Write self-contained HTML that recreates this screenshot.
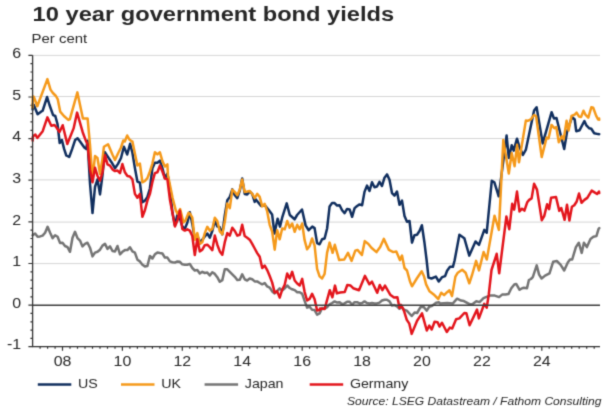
<!DOCTYPE html>
<html><head><meta charset="utf-8"><style>
html,body{margin:0;padding:0;background:#fff;}
body{width:615px;height:410px;overflow:hidden;font-family:"Liberation Sans",sans-serif;}
svg{display:block;}
</style></head><body>
<svg width="615" height="410" viewBox="0 0 615 410">
<filter id="fb" x="0" y="0" width="100%" height="100%" color-interpolation-filters="sRGB"><feConvolveMatrix order="3" kernelMatrix="0.0225 0.1050 0.0225 0.1050 0.4900 0.1050 0.0225 0.1050 0.0225" divisor="1" edgeMode="duplicate"/></filter>
<g filter="url(#fb)">
<rect width="615" height="410" fill="#fff"/>
<line x1="32.6" x2="600" y1="263.6" y2="263.6" stroke="#d6d6d6" stroke-width="1"/>
<line x1="32.6" x2="600" y1="222.1" y2="222.1" stroke="#d6d6d6" stroke-width="1"/>
<line x1="32.6" x2="600" y1="179.9" y2="179.9" stroke="#d6d6d6" stroke-width="1"/>
<line x1="32.6" x2="600" y1="138.5" y2="138.5" stroke="#d6d6d6" stroke-width="1"/>
<line x1="32.6" x2="600" y1="96.5" y2="96.5" stroke="#d6d6d6" stroke-width="1"/>
<line x1="32.6" x2="600" y1="55.4" y2="55.4" stroke="#d6d6d6" stroke-width="1"/>
<path d="M28.4,346.7H32.6 M30.4,338.4H32.6 M30.4,330.1H32.6 M30.4,321.8H32.6 M30.4,313.4H32.6 M28.4,305.1H32.6 M30.4,296.8H32.6 M30.4,288.4H32.6 M30.4,280.1H32.6 M30.4,271.8H32.6 M28.4,263.5H32.6 M30.4,255.1H32.6 M30.4,246.8H32.6 M30.4,238.5H32.6 M30.4,230.2H32.6 M28.4,221.8H32.6 M30.4,213.5H32.6 M30.4,205.2H32.6 M30.4,196.9H32.6 M30.4,188.5H32.6 M28.4,180.2H32.6 M30.4,171.9H32.6 M30.4,163.6H32.6 M30.4,155.2H32.6 M30.4,146.9H32.6 M28.4,138.6H32.6 M30.4,130.3H32.6 M30.4,121.9H32.6 M30.4,113.6H32.6 M30.4,105.3H32.6 M28.4,97.0H32.6 M30.4,88.6H32.6 M30.4,80.3H32.6 M30.4,72.0H32.6 M30.4,63.6H32.6 M28.4,55.3H32.6 M40.1,346.7V348.7 M47.6,346.7V348.7 M55.1,346.7V348.7 M62.5,346.7V350.7 M70.0,346.7V348.7 M77.5,346.7V348.7 M85.0,346.7V348.7 M92.5,346.7V348.7 M100.0,346.7V348.7 M107.5,346.7V348.7 M115.0,346.7V348.7 M122.4,346.7V350.7 M129.9,346.7V348.7 M137.4,346.7V348.7 M144.9,346.7V348.7 M152.4,346.7V348.7 M159.9,346.7V348.7 M167.4,346.7V348.7 M174.9,346.7V348.7 M182.3,346.7V350.7 M189.8,346.7V348.7 M197.3,346.7V348.7 M204.8,346.7V348.7 M212.3,346.7V348.7 M219.8,346.7V348.7 M227.3,346.7V348.7 M234.8,346.7V348.7 M242.2,346.7V350.7 M249.7,346.7V348.7 M257.2,346.7V348.7 M264.7,346.7V348.7 M272.2,346.7V348.7 M279.7,346.7V348.7 M287.2,346.7V348.7 M294.7,346.7V348.7 M302.2,346.7V350.7 M309.6,346.7V348.7 M317.1,346.7V348.7 M324.6,346.7V348.7 M332.1,346.7V348.7 M339.6,346.7V348.7 M347.1,346.7V348.7 M354.6,346.7V348.7 M362.1,346.7V350.7 M369.5,346.7V348.7 M377.0,346.7V348.7 M384.5,346.7V348.7 M392.0,346.7V348.7 M399.5,346.7V348.7 M407.0,346.7V348.7 M414.5,346.7V348.7 M421.9,346.7V350.7 M429.4,346.7V348.7 M436.9,346.7V348.7 M444.4,346.7V348.7 M451.9,346.7V348.7 M459.4,346.7V348.7 M466.9,346.7V348.7 M474.4,346.7V348.7 M481.9,346.7V350.7 M489.3,346.7V348.7 M496.8,346.7V348.7 M504.3,346.7V348.7 M511.8,346.7V348.7 M519.3,346.7V348.7 M526.8,346.7V348.7 M534.3,346.7V348.7 M541.8,346.7V350.7 M549.2,346.7V348.7 M556.7,346.7V348.7 M564.2,346.7V348.7 M571.7,346.7V348.7 M579.2,346.7V348.7 M586.7,346.7V348.7 M594.2,346.7V348.7" stroke="#333" stroke-width="1.2" fill="none"/>
<polyline points="32.6,109.4 32.8,104 33.9,105.2 37.6,114.3 41.7,111.3 42.7,110.7 47.1,97 49.5,105 53.1,115.2 55.3,116 57.5,124 59.7,143.1 61.9,140.1 64.1,148.9 66.3,155.5 69.2,157 72.2,148.9 75.1,140.1 77.6,138.2 80.4,142.1 84.3,147.4 86.3,148.9 87.5,140.7 90.0,183.5 92.5,213.1 95.0,186.9 97.5,179.4 100.0,194.4 102.5,175.2 104.7,152 108.1,157.1 111.5,162.2 115,168.2 118,163.9 121,158 123.9,146.8 127.2,154.5 130.1,143.8 132.4,152.7 134.9,168.1 137.4,181.5 139.9,182.7 142.4,202.3 144.9,200.6 147.4,196.9 149.9,188.5 152.4,168.1 154.9,162.7 157.4,162.7 159.9,160.6 162.4,168.1 164.9,178.1 167.4,173.5 169.9,188.5 172.4,212.3 174.9,225.2 177.4,214.8 179.9,218.5 182.3,226.4 184.8,228.9 187.3,222.7 189.8,212.3 192.3,223.9 194.8,238.9 197.3,235.6 199.8,242.2 202.3,239.7 204.8,236.4 207.3,233.5 209.8,237.7 212.3,231.0 214.8,221.0 217.3,226.4 219.8,227.3 222.3,234.3 224.8,215.2 227.3,200.2 229.8,196.9 232.3,189.4 234.8,195.2 237.3,198.1 239.8,190.6 242.2,178.5 244.7,193.9 247.2,194.4 249.7,191.5 252.2,193.9 254.7,201.9 255,198.5 261.1,205.9 264.8,205.2 268.4,209.5 272.1,214.4 274.5,233.5 277.6,218.7 280,226.6 282.4,216.8 286.7,203.4 289.8,215 294.6,219.3 297.1,215 302,209.5 305.6,225.4 308.7,230.2 312.3,226.6 314.6,228.1 317.1,243.1 319.6,244.3 322.1,239.3 324.6,238.5 327.1,228.5 329.6,206.4 332.1,203.1 334.6,203.1 337.1,205.6 339.6,205.2 342.1,210.2 344.6,213.1 347.1,208.9 349.6,209.4 352.1,216.8 354.6,208.1 357.1,206.0 359.6,204.4 362.1,205.2 364.5,191.9 367.0,185.6 369.5,191.0 372.0,182.3 374.5,187.3 377.0,186.5 379.5,181.9 382.0,186.0 384.5,177.7 387.0,174.4 389.5,179.8 392.0,193.1 394.5,195.6 397.0,191.5 399.5,204.8 402.0,200.6 404.5,216.0 407.0,221.8 409.5,221.0 412.0,242.7 414.5,235.2 417.0,234.7 419.5,231.0 421.9,225.2 424.4,242.2 426.6,260 428.5,277.6 431.5,278.5 435.9,276.6 438.8,281.5 442.2,277.1 445.1,276.1 447.1,270.7 450,266.8 452.9,266.8 454.6,260.5 459.4,234.8 464.3,238.2 469.3,255.6 475.5,241.5 479,244.9 484.3,229.9 486.7,232.8 491.8,180.7 494.3,182.2 498.7,196.3 506.6,135.5 508.8,157.9 511.7,145.2 513.7,150.6 517,138.7 519,145.7 522.9,155 525.9,149.6 534.1,110.6 536.6,107.2 542.7,143.4 551.6,112.2 554,118.5 556.5,118 564.2,149 567.1,131.6 572,117 574.7,119.5 576.2,131.2 579.6,130.2 584.4,121 586.4,125.4 589.3,128.3 591.3,128.8 594.2,133.2 598.1,134.1 599.2,134.2" fill="none" stroke="#102e5e" stroke-width="2.5" stroke-linejoin="round" stroke-linecap="round"/>
<polyline points="32.6,107.8 32.8,96.5 33.9,97.0 37.3,106.2 47.4,79.1 50.5,89.6 52.9,93.0 55.9,96.0 57.8,99.4 60.2,111.6 63.9,116 68.3,119.9 69.8,119.4 77.4,92.4 82.9,118.4 87.6,118.4 90.0,144.8 92.5,179.4 95.0,156.1 97.5,158.1 100.0,174.0 102.5,158.6 103.9,146.8 108.1,144.3 112.4,154.5 115,160 118,153.5 121,147.5 123.3,140.5 124.8,141.5 127.2,135.5 129.6,139.8 132.1,141.6 132.4,141.5 134.9,153.6 137.4,165.6 139.9,163.6 142.4,182.3 144.9,181.0 147.4,178.1 149.9,171.5 152.4,163.6 154.9,152.3 157.4,154.4 159.9,152.3 162.4,161.1 164.9,166.5 167.4,164.4 167.9,175 172.6,198 175.8,210.4 177.6,214 180.1,209.1 183.5,222.4 185.5,220.5 188.6,212.8 189.8,213.5 192.3,217.7 194.8,239.7 197.3,233.1 199.8,243.9 202.3,242.2 204.8,233.1 207.3,226.8 209.8,230.6 212.3,228.9 214.8,217.7 217.3,221.0 219.8,231.4 222.3,234.3 224.8,221.8 227.3,203.5 229.8,208.1 232.3,189.8 234.8,191.9 237.3,195.2 239.8,189.4 242.2,179.4 244.7,191.9 247.2,191.5 249.7,191.0 252.2,193.9 254.7,198.1 257.2,193.9 259.7,196.9 262.2,206.4 264.7,203.9 267.2,211.4 269.7,224.8 272.2,231.8 274.7,249.7 277.2,230.2 279.7,239.3 282.2,228.5 284.7,229.3 287.2,221.0 289.7,227.7 292.2,223.5 294.7,231.8 297.2,224.8 299.7,229.3 302.2,223.5 304.6,240.2 307.1,249.3 309.6,246.0 312.1,238.5 314.6,245.6 317.1,268.9 319.6,276.4 322.1,278.5 324.6,273.9 327.1,252.6 329.6,242.6 332.6,252.8 334.8,244.8 339.2,260.1 344.3,259.4 348,252.8 351.6,260.9 355.3,250.6 357.5,249.9 361.9,255 364.8,241.1 368.4,244 371.4,247.7 376.5,252.1 380.2,247 383.8,238.9 388.9,249.9 393.3,252.1 396.3,251.4 399.9,260.1 402.0,255.6 404.5,268.0 407.0,270.5 409.5,279.7 410,281.5 412,286.3 416.8,278.5 421.7,271.2 424.1,276.6 426.1,284.4 429.5,291.2 434.4,295.1 438.3,299 441.2,292.7 444.1,295.1 447.1,292.2 449.5,290.2 452,296.1 455.4,276.6 457.8,272.7 462.2,269.8 465.6,272.7 469.3,283.3 472.2,274.5 476.1,260.9 479,270.4 483.6,252 486.8,259.5 494.5,215.7 498.9,229.9 503.3,140.1 508.8,173.5 511.7,153 514.6,166.2 517.1,144.8 519,162.3 525.9,120.4 527.8,120.9 530.7,119.4 534.1,115 536.1,116 541.7,157.1 546.6,137.6 548.5,138.5 551.5,124.9 554.4,128.3 556.3,127 558.8,142.2 561.8,136.4 563.7,139.3 566.6,120.8 568.6,130.5 571.5,115.9 574.7,114.6 576.6,112.7 579.1,116.6 581,117.1 583.5,110.7 585.4,114.6 588.3,117.6 591.3,107.3 593.2,107.8 596.1,115.6 598.1,119.5 599.1,118.5 599.2,119.8" fill="none" stroke="#f5991a" stroke-width="2.5" stroke-linejoin="round" stroke-linecap="round"/>
<polyline points="32.6,235.2 35.1,233.5 37.6,236.8 40.1,236.4 42.6,235.6 45.1,232.7 47.6,226.8 50.1,232.7 52.6,238.1 55.1,235.2 57.6,236.8 60.1,243.1 62.5,242.7 65.0,246.0 67.5,247.2 70.0,251.8 72.5,237.7 75.0,231.8 77.5,238.1 80.0,240.6 82.5,246.4 85.0,243.9 87.5,242.7 90.0,247.7 92.5,256.4 95.0,252.6 97.5,251.8 100.0,249.7 102.5,245.6 105.0,243.9 107.5,248.9 110.0,246.4 112.5,251.0 115.0,251.4 117.5,246.0 120.0,254.3 122.4,251.8 124.9,250.1 127.4,250.1 129.9,247.2 132.4,251.4 134.9,252.6 137.4,259.7 139.9,261.4 142.4,264.7 144.9,266.4 147.4,266.0 149.9,256.0 152.4,258.5 154.9,254.3 157.4,252.6 159.9,253.1 162.4,253.5 164.9,257.6 167.4,257.6 169.9,261.4 172.4,262.2 174.9,262.6 177.4,261.4 179.9,261.8 182.3,264.3 184.8,264.7 187.3,264.7 189.8,263.9 192.3,268.0 194.8,270.5 197.3,270.1 199.8,273.5 202.3,271.8 204.8,273.0 207.3,272.6 209.8,275.5 212.3,272.2 214.8,273.9 217.3,277.2 219.8,281.8 222.3,280.1 224.8,269.3 227.3,269.3 229.8,271.8 232.3,274.3 234.8,276.8 237.3,280.1 239.8,279.7 242.2,274.3 244.7,279.3 247.2,280.5 249.7,278.5 252.2,279.3 254.7,281.4 257.2,281.4 259.7,283.0 262.2,284.3 264.7,283.0 267.2,286.4 269.7,287.6 272.2,291.4 274.7,293.4 277.2,290.9 279.7,288.4 282.2,290.5 284.7,288.4 287.2,285.5 289.7,288.0 292.2,289.3 294.7,290.1 297.2,292.2 299.7,292.2 302.2,293.9 304.6,300.9 307.1,307.6 309.6,306.8 312.1,309.7 314.6,310.1 317.1,314.7 319.6,313.4 322.1,308.0 324.6,308.8 327.1,307.2 329.6,304.3 332.1,303.0 334.6,301.4 337.1,302.6 339.6,302.2 342.1,304.3 344.6,303.4 347.1,301.8 349.6,301.8 352.1,304.7 354.6,302.2 357.1,302.2 359.6,303.4 362.1,303.0 364.5,301.4 367.0,303.0 369.5,303.4 372.0,303.0 374.5,303.4 377.0,303.4 379.5,302.6 382.0,300.5 384.5,299.7 387.0,299.7 389.5,301.4 392.0,305.5 394.5,305.1 397.0,306.3 399.5,308.8 402.0,307.2 403.9,309.6 406.8,310.6 411.7,316 414.6,312.6 417.1,313 420.5,307.2 423.4,306.7 426.8,310.6 429.3,306.7 432.2,305.7 436.1,302.8 439,302.3 440,303.6 447.3,303.1 452.7,303.6 457.1,298.7 461,300.6 463.9,301.1 469.5,304.2 472.7,304 476.3,301.2 479.6,302.1 483.5,298.2 485.9,297.2 489.9,295.6 494.8,295.6 499.1,297.1 502.1,294.6 505.5,294.6 508.4,294.1 511.3,288.3 514.3,284.4 516.2,283.9 519.6,289.8 522.1,288.3 524,287.8 527,288.3 528.9,280 530.9,279 532.8,277.1 536.7,265.4 539.1,274.6 541.6,278.5 545.1,275.6 549.5,273.4 553.2,261.7 556.8,261 560.5,264.7 564.2,270.5 567.8,262.5 570,259.5 572.2,259.5 575.9,247.1 578.8,242.7 581.7,252.9 583.9,242.7 586.9,247.1 590.5,239 593.4,236.8 596.4,236.1 598.6,228.8 599.3,228.1" fill="none" stroke="#747474" stroke-width="2.5" stroke-linejoin="round" stroke-linecap="round"/>
<polyline points="32.6,140.7 32.8,137 33.4,136.1 35.4,134.6 37.3,138 42.7,131.2 47.4,117.4 51.3,125.8 54.5,125 56.5,127.5 59.5,132 62.7,125.2 67.3,144 73.6,128.4 77.1,112.6 82.7,132.2 85.9,140.9 87.5,144.0 90.0,169.4 92.5,182.3 95.0,167.7 97.5,176.0 100.0,180.6 102.5,172.3 105.0,155.2 107.5,164.4 110.0,165.6 112.5,169.4 115.0,171.1 117.5,170.6 120.0,173.1 122.4,164.0 124.9,172.3 127.4,176.0 129.9,176.5 132.4,179.4 134.9,193.9 137.4,197.7 139.9,193.9 142.4,216.8 144.9,210.2 147.4,200.6 149.9,193.9 152.4,181.9 154.9,173.1 157.4,172.3 159.9,165.6 162.4,171.5 164.9,178.5 167.4,179.4 169.9,199.4 172.4,212.7 174.9,226.4 177.4,220.6 179.9,210.6 182.3,228.9 184.8,230.6 187.3,229.3 189.8,230.6 192.3,236.0 194.8,255.1 197.3,239.3 199.8,251.4 202.3,249.7 204.8,245.2 207.3,244.7 209.8,247.2 212.3,250.1 214.8,235.6 217.3,244.7 219.8,251.4 222.3,254.7 224.8,242.2 227.3,233.1 229.8,235.6 232.3,227.7 234.8,231.0 237.3,235.6 239.8,234.7 242.2,224.8 244.7,236.0 247.2,237.7 249.7,239.7 252.2,243.9 254.7,248.5 257.2,253.1 259.7,256.8 262.2,268.0 264.7,265.6 267.2,270.1 269.7,276.0 272.2,282.6 274.7,292.6 277.2,291.4 279.7,297.6 282.2,289.7 284.7,284.7 287.2,273.5 289.7,278.5 292.2,271.8 294.7,280.5 297.2,283.5 299.7,285.5 302.2,278.9 304.6,291.8 307.1,300.5 309.6,298.9 312.1,293.9 314.6,299.3 317.1,310.5 319.6,310.1 320,308.4 324.6,309 329.8,290.2 332.4,297.3 335,285.6 336.9,293.4 340,292.5 344.7,292.1 347.3,285 350.6,285.6 353.2,288.2 359,290.2 364.9,275.9 369.4,284.3 372,281.7 377.2,292.8 379.8,285 382.4,290.2 385,285.6 390.2,294.7 394,297.5 397.4,297.3 399.5,308.0 401,304.8 403.9,310.6 406.8,319.8 409.3,323.7 411.7,333.9 417.1,320.7 422,313.4 426.8,330.5 429.3,325.6 431.7,329.5 434.6,321.7 437.6,322.2 439.5,326.6 442,322.7 446.8,332 449.8,327.6 452.2,328.5 456.1,319.3 459.4,318.4 464.3,313 466.4,313.3 469.6,325.2 477,309.6 478.9,318.4 484.3,303.8 486.7,307.7 488.7,295 491.5,270 496.7,253.8 499.2,273.3 506.4,216.5 509.3,229.2 512.2,203.8 514.2,209.6 517,191.6 519.5,211.5 522,208.7 524.4,210.6 527.2,202.3 529.2,199.9 531.6,198.4 534.1,183.8 537,189.6 541.8,220.2 544.2,216.1 547.1,204.3 549.1,209.2 551.1,197.8 556,197 559.3,210.9 561.3,208 564.6,219.8 567,204.8 569.4,220.6 571.9,206.8 574.3,205.2 576.7,201.5 579,193.5 581.5,202.8 584.4,199.9 587.3,197.9 591.7,190.6 594.1,192.1 597.1,194 599,191.6 599.2,193.1" fill="none" stroke="#e3141b" stroke-width="2.5" stroke-linejoin="round" stroke-linecap="round"/>
<line x1="32.6" x2="600" y1="305.3" y2="305.3" stroke="#3c3c3c" stroke-width="1.5"/>
<path d="M32.6,55.3V346.7H600" stroke="#333" stroke-width="1.3" fill="none"/>
<g font-family="Liberation Sans, sans-serif" font-size="14" fill="#262626">
<text x="0" y="0" transform="translate(21.1,349.4) scale(1.139,1)" text-anchor="end">-1</text>
<text x="0" y="0" transform="translate(21.1,307.8) scale(1.139,1)" text-anchor="end">0</text>
<text x="0" y="0" transform="translate(21.1,266.2) scale(1.139,1)" text-anchor="end">1</text>
<text x="0" y="0" transform="translate(21.1,224.5) scale(1.139,1)" text-anchor="end">2</text>
<text x="0" y="0" transform="translate(21.1,182.9) scale(1.139,1)" text-anchor="end">3</text>
<text x="0" y="0" transform="translate(21.1,141.3) scale(1.139,1)" text-anchor="end">4</text>
<text x="0" y="0" transform="translate(21.1,99.7) scale(1.139,1)" text-anchor="end">5</text>
<text x="0" y="0" transform="translate(21.1,58.0) scale(1.139,1)" text-anchor="end">6</text>
<text x="0" y="0" transform="translate(62.5,365.5) scale(1.139,1)" text-anchor="middle">08</text>
<text x="0" y="0" transform="translate(122.4,365.5) scale(1.139,1)" text-anchor="middle">10</text>
<text x="0" y="0" transform="translate(182.3,365.5) scale(1.139,1)" text-anchor="middle">12</text>
<text x="0" y="0" transform="translate(242.2,365.5) scale(1.139,1)" text-anchor="middle">14</text>
<text x="0" y="0" transform="translate(302.2,365.5) scale(1.139,1)" text-anchor="middle">16</text>
<text x="0" y="0" transform="translate(362.1,365.5) scale(1.139,1)" text-anchor="middle">18</text>
<text x="0" y="0" transform="translate(421.9,365.5) scale(1.139,1)" text-anchor="middle">20</text>
<text x="0" y="0" transform="translate(481.9,365.5) scale(1.139,1)" text-anchor="middle">22</text>
<text x="0" y="0" transform="translate(541.8,365.5) scale(1.139,1)" text-anchor="middle">24</text>
<line x1="37.8" x2="71.3" y1="384.5" y2="384.5" stroke="#102e5e" stroke-width="2.3"/>
<text x="0" y="0" transform="translate(78.0,388.3) scale(1.139,1)" font-size="12.5">US</text>
<line x1="121" x2="154.5" y1="384.5" y2="384.5" stroke="#f5991a" stroke-width="2.3"/>
<text x="0" y="0" transform="translate(161.2,388.3) scale(1.139,1)" font-size="12.5">UK</text>
<line x1="204.6" x2="238.1" y1="384.5" y2="384.5" stroke="#747474" stroke-width="2.3"/>
<text x="0" y="0" transform="translate(244.8,388.3) scale(1.139,1)" font-size="12.5">Japan</text>
<line x1="309.7" x2="343.2" y1="384.5" y2="384.5" stroke="#e3141b" stroke-width="2.3"/>
<text x="0" y="0" transform="translate(349.9,388.3) scale(1.139,1)" font-size="12.5">Germany</text>
</g>
<text transform="translate(32.6,21) scale(1.155,1)" font-family="Liberation Sans, sans-serif" font-weight="bold" font-size="20.5" fill="#262626">10 year government bond yields</text>
<text transform="translate(31.6,43.3) scale(1.15,1)" font-family="Liberation Sans, sans-serif" font-size="13" fill="#262626">Per cent</text>
<text transform="translate(601.5,405.3) scale(1.152,1)" text-anchor="end" font-family="Liberation Sans, sans-serif" font-style="italic" font-size="10.5" fill="#262626">Source: LSEG Datastream / Fathom Consulting</text>
</g>
</svg>
</body></html>
